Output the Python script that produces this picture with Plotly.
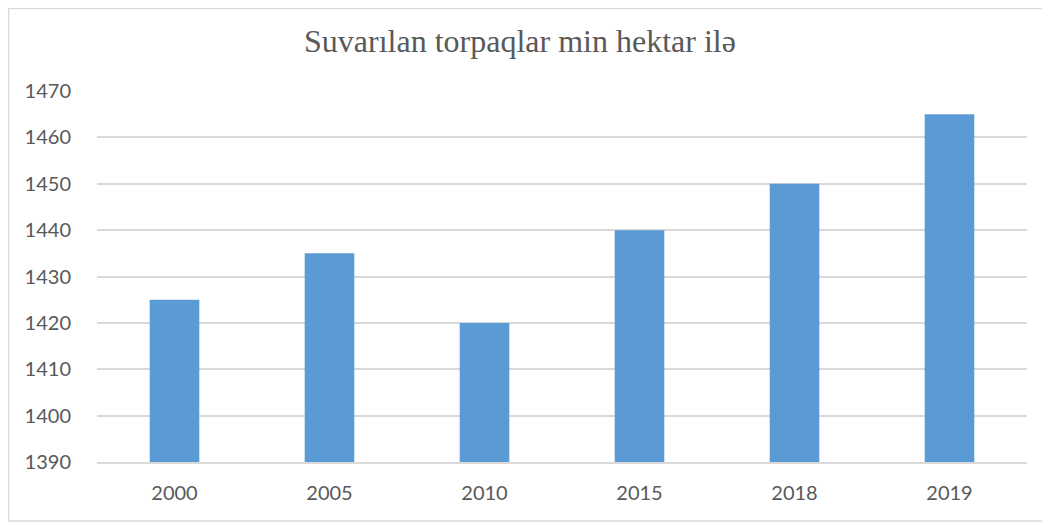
import plotly.graph_objects as go

years = ["2000", "2005", "2010", "2015", "2018", "2019"]
values = [1425, 1435, 1420, 1440, 1450, 1465]
y_ticks = [1390, 1400, 1410, 1420, 1430, 1440, 1450, 1460, 1470]
title = "Suvarılan torpaqlar min hektar ilə"

# page body has an 8px offset; compensate so that the plot lands where the reference has it
OFF = 8
W, H = 1050 - OFF, 525 - OFF
L, R, T, B = 97 - OFF, 23, 91 - OFF, 63
pw, ph = W - L - R, H - T - B

def px_x(p):
    return (p - OFF - L) / pw

def px_y(p):
    return (H + OFF - B - p) / ph

fig = go.Figure(go.Bar(x=years, y=values, marker=dict(color="#5b9bd5", line=dict(width=0)),
                       width=0.32))

fig.update_layout(
    width=W, height=H,
    margin=dict(l=L, r=R, t=T, b=B),
    paper_bgcolor="white", plot_bgcolor="white",
    showlegend=False,
    title=dict(text=title, x=(520 - OFF) / W, xanchor="center", y=1 - (41 - OFF) / H, yanchor="middle",
               font=dict(family="Liberation Serif", size=32, color="#595959")),
    font=dict(family="Lato, Open Sans, sans-serif", size=20, color="#595959"),
    xaxis=dict(showgrid=False, showline=True, linecolor="#d9d9d9", linewidth=1.5,
               ticks="", tickfont=dict(size=20, color="#595959")),
    yaxis=dict(range=[1390, 1470], tickvals=y_ticks, showgrid=True, gridcolor="#d9d9d9",
               gridwidth=1.5, zeroline=False, showline=False, ticks="",
               tickfont=dict(size=20, color="#595959")),
    shapes=[dict(type="rect", xref="paper", yref="paper",
                 x0=px_x(8.5), x1=px_x(1046), y0=px_y(521), y1=px_y(8.5),
                 line=dict(color="#d9d9d9", width=1.5), fillcolor="rgba(0,0,0,0)", layer="below")],
)
fig.update_yaxes(ticklabelstandoff=25)
fig.update_xaxes(ticklabelstandoff=12)

fig.write_html("out.html")
